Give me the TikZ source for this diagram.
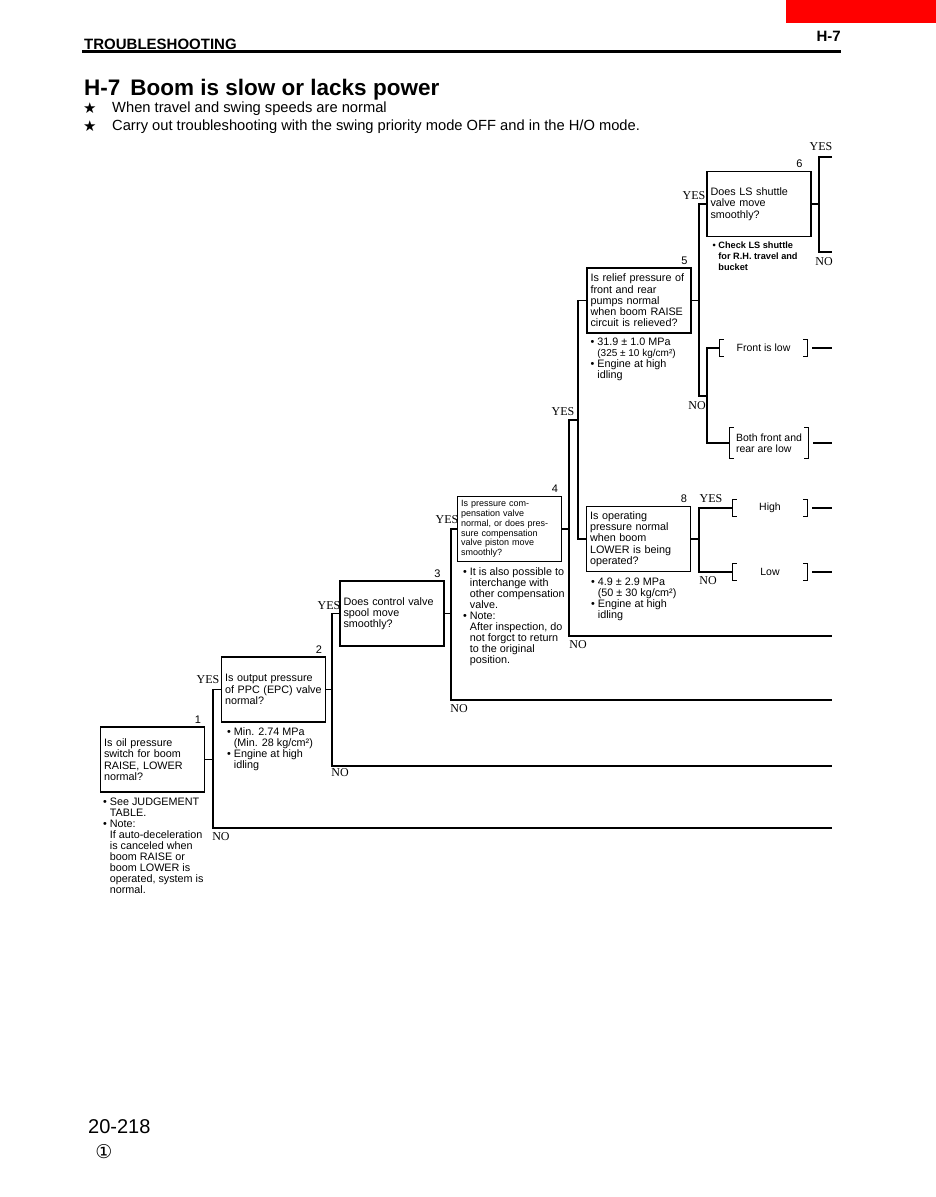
\documentclass[tikz,border=0pt]{standalone}
\usepackage{fontspec}
\setmainfont{Liberation Sans}
\newfontfamily\ynfont{Liberation Serif}
\newfontfamily\symfont{DejaVu Sans}
\usetikzlibrary{positioning}
\usepackage{xcolor}
\definecolor{redTab}{RGB}{255,0,0}
\newcommand{\bul}{\textbullet\ }
\newcommand{\bulind}{\phantom{\textbullet\ }}

\begin{document}
\begin{tikzpicture}[
    x=1pt, y=-1pt,
    qbox/.style={rectangle, draw, line width=1.2pt, minimum width=104pt, minimum height=65pt, text width=97pt, inner xsep=3.5pt, align=left, font=\fontsize{10.8}{11.3}\selectfont},
    hint/.style={align=left, inner sep=0pt, font=\fontsize{10.8}{11}\selectfont},
    num/.style={inner sep=1pt, font=\fontsize{11}{11}\selectfont},
    yn/.style={inner sep=0pt, font=\ynfont\fontsize{12}{12}\selectfont},
    res/.style={inner sep=1pt, align=left, font=\fontsize{10.5}{11.5}\selectfont},
    link/.style={line width=1.2pt}
]
\useasboundingbox (0,0) rectangle (936,1197);
\fill[redTab] (786,0) rectangle (936,23);
\node[anchor=base west, inner sep=0pt, font=\bfseries\fontsize{15}{15}\selectfont] (sect) at (84,49) {TROUBLESHOOTING};
\node[anchor=base east, inner sep=0pt, font=\bfseries\fontsize{15}{15}\selectfont] (sectno) at (841,41) {H-7};
\draw[line width=2.2pt] (82,51.5) -- (841,51.5);

\node[anchor=base west, inner sep=0pt, font=\bfseries\fontsize{22.5}{22.5}\selectfont] (title) at (84,95) {H-7\hspace{10pt}Boom is slow or lacks power};
\node[anchor=base west, inner sep=0pt, font=\symfont\fontsize{15}{15}\selectfont] (st1) at (83,113) {★};
\node[anchor=base west, inner sep=0pt, font=\fontsize{14.7}{15}\selectfont] (cond1) at (112,112.5) {When travel and swing speeds are normal};
\node[anchor=base west, inner sep=0pt, font=\symfont\fontsize{15}{15}\selectfont] (st2) at (83,131) {★};
\node[anchor=base west, inner sep=0pt, font=\fontsize{14.7}{15}\selectfont] (cond2) at (112,130) {Carry out troubleshooting with the swing priority mode OFF and in the H/O mode.};

\node[qbox] (q1) at (152.5,759.5) {Is oil pressure\\switch for boom\\RAISE, LOWER\\normal?};
\node[qbox] (q2) at (273.5,689.5) {Is output pressure\\of PPC (EPC) valve\\normal?};
\node[qbox] (q3) at (392,613.5) {Does control valve\\spool move\\smoothly?};
\node[qbox, font=\fontsize{9}{9.7}\selectfont] (q4) at (509.5,529) {Is pressure com-\\pensation valve\\normal, or does pres-\\sure compensation\\valve piston move\\smoothly?};
\node[qbox] (q5) at (639,300.5) {Is relief pressure of\\front and rear\\pumps normal\\when boom RAISE\\circuit is relieved?};
\node[qbox] (q6) at (759,204) {Does LS shuttle\\valve move\\smoothly?};
\node[qbox] (q8) at (638.5,539) {Is operating\\pressure normal\\when boom\\LOWER is being\\operated?};

\node[num, above left=2pt and 3pt of q1.north east] (k1) {1};
\node[num, above left=2pt and 3pt of q2.north east] (k2) {2};
\node[num, above left=2pt and 3pt of q3.north east] (k3) {3};
\node[num, above left=2pt and 3pt of q4.north east] (k4) {4};
\node[num, above left=2pt and 3pt of q5.north east] (k5) {5};
\node[num, above left=2pt and 8pt of q6.north east] (k6) {6};
\node[num, above left=2pt and 3pt of q8.north east] (k8) {8};

\node[hint, below right=5pt and 3pt of q1.south west] (h1) {\bul See JUDGEMENT\\\bulind TABLE.\\\bul Note:\\\bulind If auto-deceleration\\\bulind is canceled when\\\bulind boom RAISE or\\\bulind boom LOWER is\\\bulind operated, system is\\\bulind normal.};
\node[hint, below right=5pt and 6pt of q2.south west] (h2) {\bul Min. 2.74 MPa\\\bulind (Min. 28 kg/cm²)\\\bul Engine at high\\\bulind idling};
\node[hint, below right=5pt and 6pt of q4.south west] (h4) {\bul It is also possible to\\\bulind interchange with\\\bulind other compensation\\\bulind valve.\\\bul Note:\\\bulind After inspection, do\\\bulind not forgct to return\\\bulind to the original\\\bulind position.};
\node[hint, below right=4pt and 4pt of q5.south west] (h5) {\bul 31.9 ± 1.0 MPa\\\bulind {\fontsize{10}{11}\selectfont(325 ± 10 kg/cm²)}\\\bul Engine at high\\\bulind idling};
\node[hint, below right=5pt and 6pt of q6.south west, font=\bfseries\fontsize{9.2}{11}\selectfont] (h6) {\bul Check LS shuttle\\\bulind for R.H. travel and\\\bulind bucket};
\node[hint, below right=6pt and 5pt of q8.south west] (h8) {\bul 4.9 ± 2.9 MPa\\\bulind (50 ± 30 kg/cm²)\\\bul Engine at high\\\bulind idling};

\node[res, minimum width=87pt, minimum height=17pt] (r1) at (763.5,348) {Front is low};
\node[res, minimum width=78pt, minimum height=31pt] (r2) at (769,443) {Both front and\\rear are low};
\node[res, minimum width=74pt, minimum height=17pt] (r3) at (770,508) {High};
\node[res, minimum width=74pt, minimum height=17pt] (r4) at (770,572) {Low};

\coordinate (b1) at (213,828); \coordinate (e1) at (832,828);
\coordinate (b2) at (332,766); \coordinate (e2) at (832,766);
\coordinate (b3) at (451,700); \coordinate (e3) at (832,700);
\coordinate (b4) at (569,636); \coordinate (e4) at (832,636);
\coordinate (a4) at (569,420); \coordinate (s4) at (578,420);
\coordinate (b5) at (699,396); \coordinate (s5) at (707,396);
\coordinate (j6) at (819,204); \coordinate (e6y) at (832,157); \coordinate (e6n) at (832,252);
\coordinate (j8) at (699,539);

\draw[link] (q1.east) -- (q1.east -| b1);
\draw[link] (q2.west) -| (b1) -- (e1);
\draw[link] (q2.east) -- (q2.east -| b2);
\draw[link] (q3.west) -| (b2) -- (e2);
\draw[link] (q3.east) -- (q3.east -| b3);
\draw[link] (q4.west) -| (b3) -- (e3);
\draw[link] (q4.east) -- (q4.east -| b4);
\draw[link] (s4) -- (a4) -- (b4) -- (e4);
\draw[link] (q5.west) -| (s4) |- (q8.west);
\draw[link] (q5.east) -- (q5.east -| b5);
\draw[link] (q6.west) -| (b5) -- (s5);
\draw[link] (r1.west) -| (s5) |- (r2.west);
\draw[link] (q6.east) -- (q6.east -| j6);
\draw[link] (e6y) -| (j6) |- (e6n);
\draw[link] (q8.east) -- (q8.east -| j8);
\draw[link] (r3.west) -| (j8) |- (r4.west);
\foreach \r in {r1,r2,r3,r4} {
  \draw[link] ([xshift=4pt]\r.north west) -| (\r.south west) -- ++(4pt,0);
  \draw[link] ([xshift=-4pt]\r.north east) -| (\r.south east) -- ++(-4pt,0);
  \draw[link] ([xshift=5pt]\r.east) -- (\r.east -| e1);
}

\node[yn] (y1) at (208,680) {YES}; \node[yn] (n1) at (221,837) {NO};
\node[yn] (y2) at (329,606) {YES}; \node[yn] (n2) at (340,773) {NO};
\node[yn] (y3) at (447,520) {YES}; \node[yn] (n3) at (459,709) {NO};
\node[yn] (y4) at (563,412) {YES}; \node[yn] (n4) at (578,645) {NO};
\node[yn] (y5) at (694,196) {YES}; \node[yn] (n5) at (697,406) {NO};
\node[yn] (y6) at (821,147) {YES}; \node[yn] (n6) at (824,262) {NO};
\node[yn] (y8) at (711,499) {YES}; \node[yn] (n8) at (708,581) {NO};

\node[anchor=base west, inner sep=0pt, font=\fontsize{20}{20}\selectfont] (page) at (88,1133) {20-218};
\node[inner sep=0pt, font=\symfont\fontsize{19}{19}\selectfont] (rev) at (104,1152) {①};
\end{tikzpicture}
\end{document}
